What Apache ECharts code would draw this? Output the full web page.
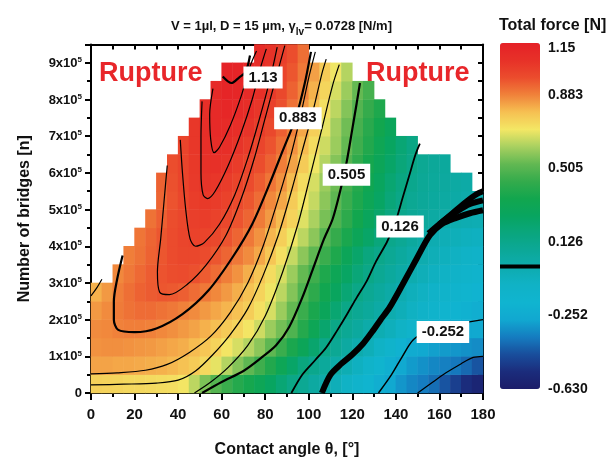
<!DOCTYPE html>
<html>
<head>
<meta charset="utf-8">
<script src="https://cdn.jsdelivr.net/npm/echarts@6/dist/echarts.min.js"></script>
<style>html,body{margin:0;padding:0;background:#fff}#main{width:614px;height:463px}</style>
</head>
<body>
<div id="main"></div>
<script>
let myChart = echarts.init(document.getElementById('main'));

const _ = null;
// 格子中心：接触角 θ (°)
const thetaMid = [2.5, 7.5, 12.5, 17.5, 22.5, 27.5, 32.5, 37.5, 42.5, 47.5, 52.5, 57.5,
	62.5, 67.5, 72.5, 77.5, 82.5, 87.5, 92.5, 97.5, 102.5, 107.5, 112.5, 117.5,
	122.5, 127.5, 132.5, 137.5, 142.5, 147.5, 152.5, 157.5, 162.5, 167.5, 172.5, 177.5];
// 格子中心：桥数 n (x10^5)
const bridgeMid = [0.25, 0.75, 1.25, 1.75, 2.25, 2.75, 3.25, 3.75, 4.25, 4.75,
	5.25, 5.75, 6.25, 6.75, 7.25, 7.75, 8.25, 8.75, 9.25];

// 总力 [N]，每行一个 n（从下往上），_ 为破裂区
const force = [
	[0.755, 0.75, 0.745, 0.74, 0.74, 0.735, 0.73, 0.725, 0.71, 0.64, 0.56, 0.5, 0.45, 0.4, 0.36, 0.31, 0.26, 0.2, 0.145, 0.1, 0.05, 0.01, -0.04, -0.09, -0.14, -0.18, -0.23, -0.27, -0.31, -0.34, -0.36, -0.39, -0.44, -0.49, -0.54, -0.58],
	[0.835, 0.835, 0.83, 0.83, 0.825, 0.82, 0.815, 0.805, 0.79, 0.77, 0.74, 0.69, 0.63, 0.57, 0.52, 0.46, 0.39, 0.31, 0.24, 0.17, 0.12, 0.07, 0.025, -0.02, -0.07, -0.12, -0.17, -0.22, -0.27, -0.3, -0.32, -0.34, -0.355, -0.37, -0.4, -0.44],
	[0.86, 0.865, 0.865, 0.86, 0.855, 0.85, 0.84, 0.83, 0.82, 0.8, 0.78, 0.75, 0.71, 0.67, 0.63, 0.58, 0.52, 0.45, 0.37, 0.3, 0.22, 0.135, 0.095, 0.05, 0.005, -0.04, -0.09, -0.14, -0.2, -0.25, -0.27, -0.29, -0.3, -0.31, -0.32, -0.33],
	[0.87, 0.875, 0.885, 0.89, 0.89, 0.885, 0.875, 0.865, 0.85, 0.835, 0.815, 0.795, 0.77, 0.745, 0.71, 0.66, 0.6, 0.55, 0.49, 0.4, 0.31, 0.22, 0.14, 0.095, 0.06, 0.02, -0.015, -0.05, -0.09, -0.13, -0.17, -0.2, -0.24, -0.255, -0.265, -0.27],
	[0.85, 0.87, 0.895, 0.91, 0.92, 0.92, 0.91, 0.9, 0.885, 0.87, 0.85, 0.83, 0.81, 0.79, 0.765, 0.72, 0.67, 0.6, 0.53, 0.45, 0.37, 0.29, 0.21, 0.14, 0.1, 0.07, 0.035, 0.0, -0.04, -0.08, -0.11, -0.14, -0.17, -0.19, -0.21, -0.23],
	[0.815, 0.85, 0.89, 0.915, 0.935, 0.948, 0.955, 0.95, 0.94, 0.92, 0.9, 0.875, 0.85, 0.82, 0.79, 0.75, 0.7, 0.64, 0.57, 0.49, 0.42, 0.34, 0.27, 0.2, 0.14, 0.1, 0.065, 0.03, -0.01, -0.05, -0.08, -0.11, -0.13, -0.15, -0.17, -0.19],
	[_, _, 0.875, 0.9, 0.925, 0.945, 0.96, 0.97, 0.975, 0.965, 0.945, 0.92, 0.89, 0.86, 0.82, 0.78, 0.73, 0.67, 0.6, 0.53, 0.46, 0.38, 0.31, 0.25, 0.19, 0.14, 0.1, 0.065, 0.03, -0.005, -0.04, -0.07, -0.09, -0.11, -0.13, -0.15],
	[_, _, _, 0.89, 0.91, 0.935, 0.955, 0.975, 0.99, 0.99, 0.975, 0.955, 0.93, 0.9, 0.87, 0.83, 0.78, 0.72, 0.65, 0.58, 0.52, 0.45, 0.38, 0.3, 0.23, 0.17, 0.13, 0.095, 0.06, 0.025, -0.005, -0.035, -0.06, -0.08, -0.095, -0.11],
	[_, _, _, _, 0.905, 0.93, 0.955, 0.975, 0.995, 1.005, 1.0, 0.985, 0.96, 0.93, 0.9, 0.86, 0.81, 0.76, 0.7, 0.64, 0.58, 0.505, 0.44, 0.37, 0.3, 0.24, 0.18, 0.125, 0.095, 0.06, 0.025, -0.01, -0.03, -0.045, -0.06, -0.07],
	[_, _, _, _, _, 0.91, 0.94, 0.97, 0.99, 1.015, 1.02, 1.005, 0.985, 0.96, 0.93, 0.895, 0.85, 0.8, 0.75, 0.68, 0.62, 0.555, 0.49, 0.42, 0.35, 0.28, 0.22, 0.16, 0.12, 0.09, 0.065, 0.04, 0.02, 0.0, -0.01, -0.02],
	[_, _, _, _, _, _, 0.93, 0.96, 0.99, 1.02, 1.035, 1.025, 1.005, 0.98, 0.955, 0.92, 0.875, 0.83, 0.77, 0.71, 0.65, 0.58, 0.52, 0.45, 0.38, 0.31, 0.25, 0.19, 0.14, 0.1, 0.08, 0.06, 0.045, 0.03, 0.015, 0.005],
	[_, _, _, _, _, _, 0.935, 0.965, 1.0, 1.03, 1.05, 1.045, 1.025, 1.0, 0.975, 0.945, 0.905, 0.86, 0.8, 0.73, 0.67, 0.6, 0.54, 0.47, 0.4, 0.33, 0.27, 0.21, 0.16, 0.12, 0.09, 0.07, 0.055, 0.04, 0.03, _],
	[_, _, _, _, _, _, _, 0.97, 1.0, 1.035, 1.06, 1.065, 1.05, 1.025, 1.0, 0.97, 0.935, 0.89, 0.835, 0.77, 0.7, 0.63, 0.57, 0.5, 0.43, 0.36, 0.3, 0.24, 0.185, 0.14, 0.1, 0.08, 0.065, _, _, _],
	[_, _, _, _, _, _, _, _, 1.0, 1.04, 1.07, 1.085, 1.075, 1.05, 1.025, 0.995, 0.96, 0.915, 0.86, 0.8, 0.73, 0.66, 0.6, 0.53, 0.46, 0.39, 0.32, 0.26, 0.2, 0.15, _, _, _, _, _, _],
	[_, _, _, _, _, _, _, _, _, 1.04, 1.075, 1.1, 1.095, 1.075, 1.05, 1.02, 0.985, 0.94, 0.885, 0.83, 0.76, 0.69, 0.61, 0.545, 0.475, 0.41, 0.35, 0.29, _, _, _, _, _, _, _, _],
	[_, _, _, _, _, _, _, _, _, _, 1.07, 1.1, 1.115, 1.1, 1.075, 1.045, 1.01, 0.965, 0.91, 0.855, 0.79, 0.72, 0.64, 0.57, 0.5, 0.44, 0.38, _, _, _, _, _, _, _, _, _],
	[_, _, _, _, _, _, _, _, _, _, _, 1.1, 1.125, 1.12, 1.095, 1.065, 1.03, 0.985, 0.935, 0.88, 0.815, 0.745, 0.67, 0.6, 0.53, 0.47, _, _, _, _, _, _, _, _, _, _],
	[_, _, _, _, _, _, _, _, _, _, _, _, 1.14, 1.135, 1.11, 1.08, 1.045, 1.0, 0.955, 0.9, 0.84, 0.77, 0.7, 0.63, _, _, _, _, _, _, _, _, _, _, _, _],
	[_, _, _, _, _, _, _, _, _, _, _, _, _, _, _, 1.09, 1.055, 1.015, 0.97, 0.915, _, _, _, _, _, _, _, _, _, _, _, _, _, _, _, _]
];

// 等值线（从图上读出的 [θ, n(x10^5)] 点）
const line113 = [[60.5, 8.63], [64.5, 8.45], [68, 8.6], [71, 8.75], [73, 9.2]];
const line109 = [[56, 8.3], [54.5, 7.6], [55, 6.9], [56.5, 6.55], [59, 6.7], [64, 7.3], [69, 8.1], [73, 8.9], [76, 9.32]];
const line105 = [[51, 7.95], [50.5, 7.0], [50.5, 6.0], [51.5, 5.4], [53.5, 5.3], [57, 5.5], [63, 6.2], [69, 7.1], [74, 8.0], [78, 8.9], [80.5, 9.38]];
const line100 = [[41, 6.9], [42, 6.0], [43.5, 5.0], [45.5, 4.2], [48, 4.0], [52, 4.1], [59, 4.6], [66, 5.4], [72, 6.4], [77, 7.4], [82, 8.5], [85.5, 9.43]];
const line095 = [[35, 6.2], [33.5, 5.2], [32, 4.2], [30.5, 3.3], [31.5, 2.75], [36, 2.68], [44, 2.95], [53, 3.5], [62, 4.3], [69, 5.3], [75, 6.4], [80, 7.5], [85, 8.6], [89, 9.47]];
const line088 = [[14.5, 3.75], [12, 3.1], [10.5, 2.5], [10.5, 2.0], [12.5, 1.72], [20, 1.66], [30, 1.76], [42, 2.15], [54, 2.8], [65, 3.7], [74, 4.6], [82, 5.7], [88, 6.6], [94, 7.5], [98, 8.4], [101, 9.3]];
const line082a = [[0, 2.65], [2.5, 2.85], [5, 3.1]];
const line082 = [[0, 0.52], [12, 0.55], [25, 0.62], [35, 0.78], [45, 1.1], [55, 1.55], [64, 2.2], [72, 3.0], [79, 4.0], [85, 5.1], [91, 6.3], [96, 7.5], [100, 8.6], [103, 9.3]];
const line076 = [[0, 0.22], [15, 0.24], [30, 0.27], [40, 0.35], [48, 0.6], [56, 1.05], [64, 1.6], [72, 2.3], [79, 3.2], [86, 4.3], [92, 5.5], [97, 6.6], [102, 7.7], [106, 8.7], [108, 9.1]];
const line060 = [[47.5, 0], [55, 0.3], [63, 0.7], [72, 1.3], [80, 2.1], [88, 3.3], [95, 4.6], [101, 6.0], [106, 7.2], [111, 8.4], [114, 8.95]];
const line050 = [[51, 0], [60, 0.3], [70, 0.6], [78, 0.95], [85, 1.3], [91, 1.8], [97, 2.6], [102, 3.4], [107, 4.2], [111, 4.75], [115, 5.65], [117.4, 6.3], [120, 7.2], [122, 7.9], [123.5, 8.45]];
const line013 = [[92, 0], [97, 0.5], [103, 0.9], [108, 1.24], [113, 1.7], [117.5, 2.14], [122, 2.6], [126.6, 3.05], [131, 3.6], [136, 4.13], [140, 4.7], [143, 5.3], [146, 5.9], [149, 6.5], [151, 6.8]];
const line000 = [[106, 0], [110, 0.5], [115, 0.8], [120, 1.05], [125, 1.35], [129.5, 1.7], [133, 2.0], [137, 2.32], [143, 2.95], [149.7, 3.68], [155.6, 4.3], [161, 4.6], [168, 4.78], [174, 4.9], [180, 4.98]];
const line000b = [[155, 4.35], [162, 4.7], [168, 4.95], [174, 5.15], [180, 5.25]];
const line000c = [[160, 4.6], [166, 4.9], [172, 5.2], [177, 5.42], [180, 5.5]];
const line025 = [[132, 0], [138, 0.5], [143, 1.0], [148, 1.45], [155, 1.7], [165, 1.85], [180, 2.0]];
const line038 = [[150, 0], [157, 0.3], [163, 0.55], [170, 0.8], [175.5, 0.97], [180, 1.0]];

// 等值线标签 [θ, n, 文字]
const contourLabels = [[79, 8.6, '1.13'], [95, 7.49, '0.883'], [117.3, 5.95, '0.505'], [141.9, 4.54, '0.126'], [161.6, 1.66, '-0.252']];

// 色标刻度
const colorTicks = [1.15, 0.883, 0.505, 0.126, -0.252, -0.63];
const colorTickText = ['1.15', '0.883', '0.505', '0.126', '-0.252', '-0.630'];
const zeroLevel = 0;

// 色标颜色（-0.63 到 1.15 等间距）
const colorStops = ['#1c1d69', '#1b2c7c', '#194e9c', '#157cc0', '#11a8d0', '#10b4d0', '#10b2c6',
	'#0eacb0', '#0ca898', '#0aa67e', '#08a560', '#12a64e', '#34ab4c', '#62b852', '#a8d060',
	'#f3e765', '#f6c052', '#f0823a', '#eb4c2d', '#e73128', '#e52127'];

const font = '"Liberation Sans", Arial, sans-serif';

let heatData = [];
force.forEach(function (row, j) {
	row.forEach(function (v, i) {
		if (v !== null) heatData.push([i, j, v]);
	});
});

function contour(pts, w) {
	return {
		type: 'line', xAxisIndex: 1, yAxisIndex: 1, data: pts,
		showSymbol: false, smooth: 0.3, silent: true, z: 3,
		lineStyle: {color: '#000', width: w}
	};
}

let option = {
	animation: false,
	title: [{
		text: '{a|V = 1µl, D = 15 µm, γ}{b|lv}{a|= 0.0728 [N/m]}',
		left: 166, top: 15,
		textStyle: {
			rich: {
				a: {fontSize: 13, fontFamily: font, color: '#111', padding: [0, 0, 4, 0], verticalAlign: 'bottom'},
				b: {fontSize: 10, fontFamily: font, color: '#111', fontWeight: 'bold', verticalAlign: 'bottom'}
			}
		}
	}, {
		text: 'Total force [N]',
		left: 494, top: 13,
		textStyle: {fontSize: 16, fontWeight: 'bold', fontFamily: font, color: '#111'}
	}],
	grid: [
		{left: 91, right: 131, top: 44.5, bottom: 67},
		{left: 500, top: 43, width: 40, height: 346}
	],
	visualMap: {
		type: 'continuous', min: -0.63, max: 1.15, seriesIndex: 0,
		calculable: false, hoverLink: false,
		left: 500, top: 43, itemWidth: 40, itemHeight: 346, padding: 0,
		inRange: {color: colorStops}
	},
	xAxis: [
		{type: 'category', data: thetaMid, show: false, gridIndex: 0},
		{
			type: 'value', min: 0, max: 180, interval: 20, gridIndex: 0, position: 'bottom',
			name: 'Contact angle θ, [°]', nameLocation: 'middle', nameGap: 49,
			nameTextStyle: {fontSize: 16, fontWeight: 'bold', fontFamily: font, color: '#111'},
			axisLine: {lineStyle: {color: '#000', width: 2}},
			axisTick: {length: 7, lineStyle: {width: 2}},
			minorTick: {show: true, splitNumber: 2, length: 4, lineStyle: {color: '#000', width: 2}},
			axisLabel: {fontSize: 15, fontWeight: 'bold', fontFamily: font, color: '#111', margin: 14},
			splitLine: {show: false}
		},
		{
			type: 'value', min: 0, max: 180, interval: 10, gridIndex: 0, position: 'top',
			axisLine: {lineStyle: {color: '#000', width: 2}},
			axisTick: {inside: true, length: 5, lineStyle: {width: 2}},
			axisLabel: {show: false}, splitLine: {show: false}
		},
		{type: 'value', min: 0, max: 1, gridIndex: 1, show: false}
	],
	yAxis: [
		{type: 'category', data: bridgeMid, show: false, gridIndex: 0},
		{
			type: 'value', min: 0, max: 9.5, interval: 1, gridIndex: 0, position: 'left',
			name: 'Number of bridges [n]', nameLocation: 'middle', nameGap: 58,
			nameTextStyle: {fontSize: 16, fontWeight: 'bold', fontFamily: font, color: '#111'},
			axisLine: {lineStyle: {color: '#000', width: 2}},
			axisTick: {length: 6, lineStyle: {width: 2}},
			minorTick: {show: true, splitNumber: 2, length: 4, lineStyle: {color: '#000', width: 2}},
			axisLabel: {
				margin: 9,
				formatter: function (v) {
					if (v % 1 !== 0) return '';
					return v === 0 ? '{n|0}' : '{n|' + v + 'x10}{s|5}';
				},
				rich: {
					n: {fontSize: 13, fontWeight: 'bold', fontFamily: font, color: '#111', verticalAlign: 'bottom'},
					s: {fontSize: 8, fontWeight: 'bold', fontFamily: font, color: '#111', verticalAlign: 'bottom', padding: [0, 0, 6, 0]}
				}
			},
			splitLine: {show: false}
		},
		{
			type: 'value', min: 0, max: 9.5, interval: 0.5, gridIndex: 0, position: 'right',
			axisLine: {lineStyle: {color: '#000', width: 2}},
			axisTick: {inside: true, length: 5, lineStyle: {width: 2}},
			axisLabel: {show: false}, splitLine: {show: false}
		},
		{
			type: 'value', min: -0.63, max: 1.15, gridIndex: 1, position: 'right',
			axisLine: {show: false}, axisTick: {show: false}, splitLine: {show: false},
			axisLabel: {
				customValues: colorTicks, margin: 8,
				formatter: function (v) {
					let k = colorTicks.findIndex(function (t) { return Math.abs(t - v) < 1e-6; });
					if (k < 0) return '';
					return k === 0 ? '{t|' + colorTickText[k] + '}' : '{n|' + colorTickText[k] + '}';
				},
				rich: {
					n: {fontSize: 14, fontWeight: 'bold', fontFamily: font, color: '#111'},
					t: {fontSize: 14, fontWeight: 'bold', fontFamily: font, color: '#111', padding: [10, 0, 0, 0]}
				}
			}
		}
	],
	graphic: [
		{type: 'text', left: 99, top: 60, style: {text: 'Rupture', fill: '#e8262a', font: 'bold 27px ' + font}},
		{type: 'text', left: 366, top: 60, style: {text: 'Rupture', fill: '#e8262a', font: 'bold 27px ' + font}}
	],
	series: [
		{
			type: 'heatmap', xAxisIndex: 0, yAxisIndex: 0, data: heatData,
			silent: true, itemStyle: {borderWidth: 0}
		},
		contour(line113, 2.2),
		contour(line109, 1.2),
		contour(line105, 1.2),
		contour(line100, 1.2),
		contour(line095, 1.2),
		contour(line088, 2.2),
		contour(line082a, 1.2),
		contour(line082, 1.2),
		contour(line076, 1.2),
		contour(line060, 1.2),
		contour(line050, 2.2),
		contour(line013, 1.8),
		contour(line000, 6),
		contour(line000b, 6),
		contour(line000c, 6),
		contour(line025, 1.5),
		contour(line038, 1.2),
		{
			type: 'scatter', xAxisIndex: 1, yAxisIndex: 1, symbolSize: 0, silent: true, z: 5,
			itemStyle: {color: 'transparent', opacity: 1},
			data: contourLabels.map(function (d) {
				return {value: [d[0], d[1]], label: {formatter: d[2]}};
			}),
			label: {
				show: true, position: 'inside', backgroundColor: '#fff', padding: [4, 5, 3, 5], opacity: 1,
				fontSize: 15, fontWeight: 'bold', fontFamily: font, color: '#111'
			}
		},
		{
			type: 'line', xAxisIndex: 3, yAxisIndex: 3, showSymbol: false, silent: true, z: 5,
			data: [[0, zeroLevel], [1, zeroLevel]],
			lineStyle: {color: '#000', width: 4}
		}
	]
};

myChart.setOption(option);
</script>
</body>
</html>
